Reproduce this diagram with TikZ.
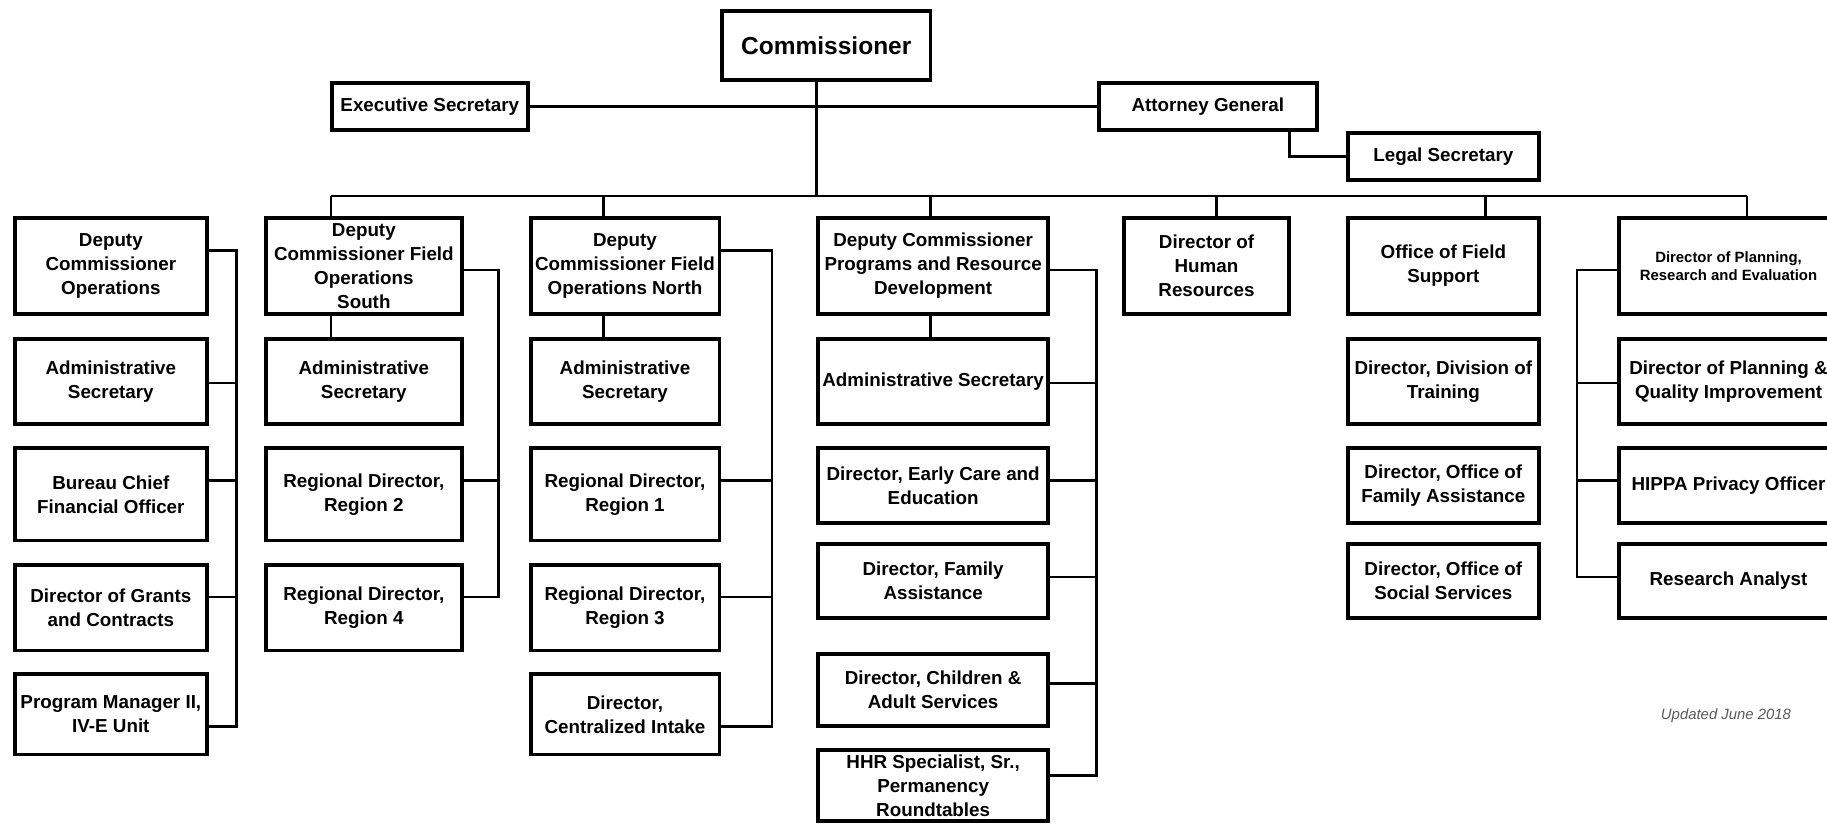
\documentclass[tikz,border=0pt]{standalone}
\usepackage{fontspec}
\setmainfont{Liberation Sans}
\newcommand\mainfs{\fontsize{18.8}{24}\selectfont\bfseries}
\newcommand\smallfs{\fontsize{14.9}{18.3}\selectfont\bfseries}
\newcommand\bigfs{\fontsize{24.5}{30}\selectfont\bfseries}
\tikzset{
  box/.style={draw, line width=3.8pt, fill=white, inner sep=0pt, align=center, font=\mainfs},
  conn/.style={line width=2.7pt},
  note/.style={font=\fontsize{14.9}{18}\selectfont\itshape, text=black!65},
}
% \bx[opts]{name}{x1}{y1}{x2}{y2}{text}  (outer edges in px)
\newcommand\bx[7][]{\node[box,#1, minimum width={#5-#3-3.8}, minimum height={#6-#4-3.8}] (#2) at ({(#3+#5)/2},{(#4+#6)/2}) {#7};}
\begin{document}
\begin{tikzpicture}[x=1pt,y=-1pt]
\useasboundingbox (0,0) rectangle (1827,825);
\clip (0,0) rectangle (1827,825);

% top
\bx[font=\bigfs]{comm}{720.3}{9.3}{932.3}{81.5}{Commissioner}
\bx{es}{330}{81}{529.7}{131.7}{Executive Secretary}
\bx{ag}{1096.7}{81}{1319}{131.7}{Attorney General}
\bx{ls}{1345.7}{131}{1541}{181.7}{Legal Secretary}

% top row
\bx{dco}{12.7}{216}{209}{316}{Deputy\\Commissioner\\Operations}
\bx{dcfs}{264}{216}{463.7}{316}{Deputy\\Commissioner Field\\Operations\\South}
\bx{dcfn}{528.7}{216}{721.3}{316}{Deputy\\Commissioner Field\\Operations North}
\bx{dcprd}{816.3}{216}{1050}{316}{Deputy Commissioner\\Programs and Resource\\Development}
\bx{dhr}{1122.3}{216}{1290.7}{316}{Director of\\Human\\Resources}
\bx{ofs}{1345.7}{216}{1541}{316}{Office of Field\\Support}
\bx[font=\smallfs]{dpre}{1617}{216}{1840}{316}{Director of Planning,\\Research and Evaluation}

% column 1
\bx{as1}{12.7}{337}{209}{425.7}{Administrative\\Secretary}
\bx{bc}{12.7}{446.3}{209}{542.3}{Bureau Chief\\Financial Officer}
\bx{gr}{12.7}{563}{209}{652.3}{Director of Grants\\and Contracts}
\bx{pm}{12.7}{672.3}{209}{756.3}{Program Manager II,\\IV-E Unit}

% column 2
\bx{as2}{264}{337}{463.7}{425.7}{Administrative\\Secretary}
\bx{r2}{264}{446.3}{463.7}{542.3}{Regional Director,\\Region 2}
\bx{r4}{264}{563}{463.7}{652.3}{Regional Director,\\Region 4}

% column 3
\bx{as3}{528.7}{337}{721.3}{425.7}{Administrative\\Secretary}
\bx{r1}{528.7}{446.3}{721.3}{542.3}{Regional Director,\\Region 1}
\bx{r3}{528.7}{563}{721.3}{652.3}{Regional Director,\\Region 3}
\bx{ci}{528.7}{672.3}{721.3}{756.3}{Director,\\Centralized Intake}

% column 4
\bx{as4}{816.3}{337}{1050}{425.7}{Administrative Secretary}
\bx{ec}{816.3}{446}{1050}{524.7}{Director, Early Care and\\Education}
\bx{fa}{816.3}{542.3}{1050}{619.7}{Director, Family\\Assistance}
\bx{ca}{816.3}{652.3}{1050}{728}{Director, Children \&\\Adult Services}
\bx{hhr}{816.3}{748}{1050}{823}{HHR Specialist, Sr.,\\Permanency\\Roundtables}

% column 6
\bx{dt}{1345.7}{337}{1541}{425.7}{Director, Division of\\Training}
\bx{ofa}{1345.7}{446}{1541}{524.7}{Director, Office of\\Family Assistance}
\bx{oss}{1345.7}{542.3}{1541}{619.7}{Director, Office of\\Social Services}

% column 7
\bx{dpq}{1617}{337}{1840}{425.7}{Director of Planning \&\\Quality Improvement}
\bx{hip}{1617}{446}{1840}{524.7}{HIPPA Privacy Officer}
\bx{ra}{1617}{542.3}{1840}{619.7}{Research Analyst}

\node[note] (upd) at (1726,716) {Updated June 2018};

% top connectors
\coordinate (busT) at (816.3,196);
\coordinate (b2) at (331,196);
\coordinate (b3) at (603.7,196);
\coordinate (b4) at (930.7,196);
\coordinate (b5) at (1216.7,196);
\coordinate (b6) at (1485.3,196);
\coordinate (b7) at (1747,196);
\draw[conn] (es.east) -- (ag.west);
\draw[conn] (comm.south -| busT) -- (busT);
\draw[conn] (b2) -- (b7);
\draw[conn] (ag.south -| 1289.7,0) |- (ls.west);
\draw[conn] (b2) -- (b2 |- dcfs.north);
\draw[conn] (b3) -- (b3 |- dcfn.north);
\draw[conn] (b4) -- (b4 |- dcprd.north);
\draw[conn] (b5) -- (b5 |- dhr.north);
\draw[conn] (b6) -- (b6 |- ofs.north);
\draw[conn] (b7) -- (b7 |- dpre.north);

% drops to administrative secretaries
\draw[conn] (dcfs.south -| b2) -- (as2.north -| b2);
\draw[conn] (dcfn.south -| b3) -- (as3.north -| b3);
\draw[conn] (dcprd.south -| b4) -- (as4.north -| b4);

% column 1 bracket
\coordinate (v1) at (236.7,726.3);
\draw[conn] (dco.east |- 0,250.7) -| (v1) -- (pm.east |- v1);
\foreach \n/\y in {as1/383, bc/480.3, gr/597}
  \draw[conn] (\n.east |- 0,\y) -- (v1 |- 0,\y);

% column 2 bracket
\coordinate (v2) at (498.7,597);
\draw[conn] (dcfs.east |- 0,270) -| (v2) -- (r4.east |- v2);
\draw[conn] (r2.east |- 0,480.3) -- (v2 |- 0,480.3);

% column 3 bracket
\coordinate (v3) at (772,726.3);
\draw[conn] (dcfn.east |- 0,250.7) -| (v3) -- (ci.east |- v3);
\foreach \n/\y in {r1/480.3, r3/597}
  \draw[conn] (\n.east |- 0,\y) -- (v3 |- 0,\y);

% column 4 bracket
\coordinate (v4) at (1096.7,775.7);
\draw[conn] (dcprd.east |- 0,270) -| (v4) -- (hhr.east |- v4);
\foreach \n/\y in {as4/383, ec/480.3, fa/577, ca/683.7}
  \draw[conn] (\n.east |- 0,\y) -- (v4 |- 0,\y);

% column 7 bracket
\coordinate (v7) at (1577,577);
\draw[conn] (dpre.west |- 0,270) -| (v7) -- (ra.west |- v7);
\foreach \n/\y in {dpq/383, hip/480.3}
  \draw[conn] (\n.west |- 0,\y) -- (v7 |- 0,\y);
\end{tikzpicture}
\end{document}
